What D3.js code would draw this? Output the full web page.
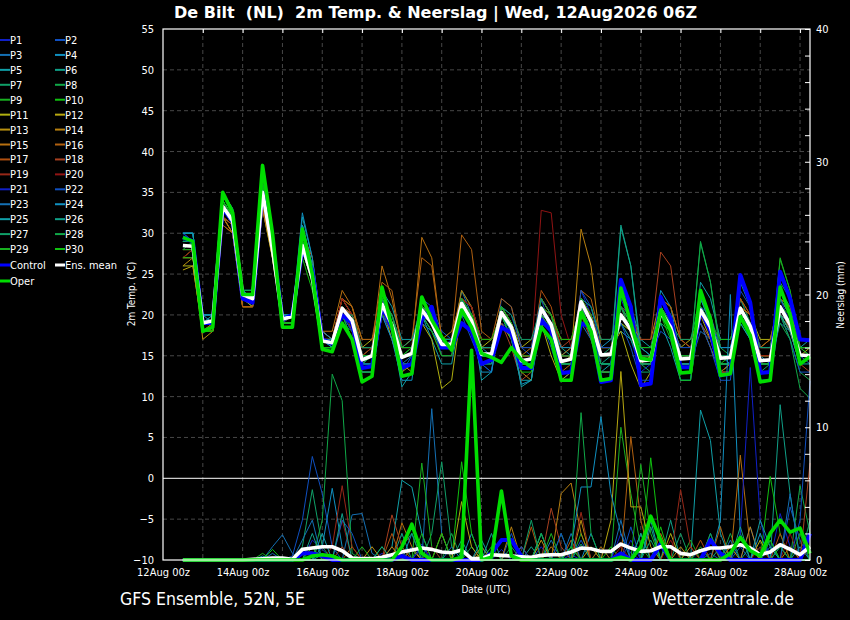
<!DOCTYPE html>
<html>
<head>
<meta charset="utf-8">
<script src="https://cdn.jsdelivr.net/npm/d3@7"></script>
<style>
    body { margin: 0; background: #000; }
    svg { display: block; }
    text { font-family: "DejaVu Sans Condensed", "DejaVu Sans", sans-serif; fill: #fff; }
</style>
</head>
<body>
<svg id="chart" width="850" height="620"></svg>
<script>

// run 12Aug2026 06Z, 6-hourly steps, first value at +6h
var runStart = Date.UTC(2026, 7, 12, 6);
var stepHours = 6;

var tempTicks = [-10, -5, 0, 5, 10, 15, 20, 25, 30, 35, 40, 45, 50, 55];
var precipTicks = [0, 10, 20, 30, 40];
var precipMinor = [0, 2, 4, 6, 8, 10, 12, 14, 16, 18, 20, 22, 24, 26, 28, 30, 32, 34, 36, 38, 40];

var memberNames = ["P1", "P2", "P3", "P4", "P5", "P6", "P7", "P8", "P9", "P10",
    "P11", "P12", "P13", "P14", "P15", "P16", "P17", "P18", "P19", "P20",
    "P21", "P22", "P23", "P24", "P25", "P26", "P27", "P28", "P29", "P30"];

var memberColors = ["#1020c8", "#1050c0", "#1470b4", "#1090c0", "#10a0a8", "#10a088", "#10a068", "#10a848", "#18b020", "#10c010",
    "#b0b010", "#b8a810", "#b89010", "#b88010", "#b87010", "#b06010", "#b05010", "#a84020", "#982818", "#901414",
    "#1020c8", "#1050c0", "#1470b4", "#1090c0", "#10a0a8", "#10a088", "#10a068", "#10a848", "#18b020", "#10c010"];

// 2m temperature, one row per member
var tempMembers = [
    [30,29,19,19, 33,31,22,22, 35,28,19,20, 28,24,17,16, 21,19,14,15, 22,19,15,15, 20,19,16,17, 22,20,15,15, 19,18,14,15, 21,19,14,14, 23,20,15,15, 19,17,13,14, 21,19,15,15, 19,17,15,15, 22,19,14,14, 23,20,16,16],
    [29,29,19,20, 34,32,23,22, 36,29,20,20, 29,25,17,17, 20,18,13,13, 20,17,13,15, 22,21,18,17, 20,17,14,13, 22,21,16,15, 19,16,12,13, 22,21,17,17, 21,20,16,15, 18,17,12,12, 21,20,16,16, 20,17,13,13, 25,22,17,17],
    [30,30,20,20, 33,31,23,23, 34,29,20,20, 30,26,18,17, 22,20,15,15, 21,18,14,15, 19,18,16,16, 23,20,16,15, 20,18,14,14, 22,20,15,15, 20,19,14,14, 24,21,16,15, 20,18,14,14, 18,17,13,14, 21,19,15,15, 19,18,15,14],
    [30,30,20,19, 34,32,23,22, 34,30,20,20, 31,26,17,16, 20,19,14,14, 22,19,15,15, 21,19,17,17, 20,19,14,14, 21,19,15,15, 20,18,13,13, 22,20,16,17, 18,17,14,15, 23,21,15,15, 22,20,15,14, 24,21,15,14, 20,18,14,15],
    [29,29,20,20, 33,31,22,21, 35,29,19,19, 32,27,17,16, 21,20,16,16, 23,21,17,17, 20,17,14,14, 21,20,12,13, 20,17,12,12, 19,18,15,16, 21,17,13,14, 22,21,17,16, 19,16,12,12, 24,22,17,17, 21,18,12,12, 22,20,16,17],
    [30,29,19,19, 34,32,23,23, 36,30,20,20, 29,25,17,16, 20,18,14,15, 21,18,14,14, 21,20,17,17, 22,20,16,16, 19,17,14,14, 22,20,16,15, 20,18,14,15, 31,26,16,15, 21,19,15,15, 20,18,14,14, 19,17,14,14, 23,21,16,16],
    [28,28,18,19, 33,31,22,22, 35,28,19,20, 28,25,16,16, 21,20,15,15, 20,18,15,16, 22,20,17,17, 22,19,15,15, 21,19,15,15, 20,19,15,15, 21,19,15,16, 19,17,14,13, 20,18,15,15, 22,19,14,14, 20,18,13,14, 21,18,14,15],
    [29,29,19,19, 35,33,23,23, 37,30,20,20, 29,25,16,16, 19,18,14,14, 22,19,15,15, 20,19,16,16, 23,21,16,16, 21,19,15,15, 21,19,14,14, 21,19,15,15, 20,18,15,15, 19,18,15,15, 29,24,16,15, 22,19,14,14, 19,17,13,12],
    [28,28,18,19, 34,32,22,22, 36,29,19,19, 28,24,16,16, 20,19,14,15, 22,19,15,15, 21,19,16,16, 22,20,15,15, 20,18,14,14, 21,19,15,15, 22,20,15,15, 20,18,14,14, 20,18,14,14, 21,19,15,15, 20,18,14,14, 27,23,16,15],
    [27,28,18,18, 33,31,22,22, 36,28,19,19, 27,23,16,16, 20,19,15,15, 21,19,15,16, 20,19,17,17, 21,19,15,15, 20,19,15,15, 20,18,15,15, 20,18,15,15, 19,18,14,14, 22,20,15,15, 20,18,14,15, 21,19,15,15, 20,18,15,15],
    [26,26,18,18, 32,31,22,21, 34,27,19,19, 28,24,17,17, 21,20,16,17, 21,17,13,14, 19,17,11,12, 21,20,16,17, 20,19,16,17, 19,15,12,13, 21,20,16,16, 18,14,11,13, 20,19,16,17, 20,17,13,14, 21,20,17,17, 20,19,15,16],
    [25.5,26,18,18, 32,30,21,21, 33,27,19,19, 28,24,17,17, 21,20,15,16, 22,20,16,16, 20,19,16,16, 20,19,16,16, 21,19,15,15, 20,19,14,15, 22,20,16,16, 19,18,15,15, 21,19,15,15, 21,19,15,15, 21,19,16,16, 20,18,15,15],
    [26,27,17,18, 31,30,21,21, 33,27,19,20, 29,25,17,17, 22,21,17,17, 21,18,14,13, 21,20,17,18, 22,21,17,17, 19,17,13,12, 21,20,17,17, 21,18,13,13, 20,19,17,17, 22,21,17,16, 19,16,13,13, 21,20,16,17, 22,20,17,17],
    [27,27,18,18, 32,30,21,21, 34,28,20,20, 29,25,18,17, 22,20,16,16, 20,18,15,15, 21,20,17,17, 21,19,16,16, 20,19,15,15, 22,20,15,15, 30.5,26,16,16, 21,19,15,15, 20,18,14,14, 20,19,15,15, 22,20,15,15, 21,19,16,16],
    [28,28,18,18, 32,30,22,22, 34,28,20,20, 30,26,18,18, 23,21,16,16, 26,22,16,16, 29.5,27,17,17, 23,21,16,16, 21,19,15,16, 20,18,15,16, 22,20,15,15, 20,18,14,15, 21,19,15,15, 22,20,15,15, 20,19,15,15, 21,19,16,16],
    [27,28,18,19, 32,31,22,22, 34,28,19,20, 30,27,18,17, 22,21,17,17, 24,23,16,17, 27,26,17,17, 29.8,28,18,17, 22,21,16,16, 21,18,13,14, 23,22,17,17, 21,18,14,14, 22,21,17,17, 19,17,13,14, 21,20,16,17, 22,21,17,17],
    [28,28,18,19, 31,30,21,21, 33,28,20,20, 29,26,17,17, 22,20,16,16, 21,19,15,15, 21,19,16,16, 21,19,15,15, 20,18,15,15, 23,21,16,16, 22,20,16,16, 20,18,15,15, 21,19,15,15, 20,18,15,15, 22,20,16,16, 20,19,15,15],
    [27,27,19,19, 32,31,22,22, 34,29,20,20, 28,24,17,17, 21,18,13,13, 20,19,16,17, 20,18,15,15, 22,21,17,17, 19,16,12,13, 21,20,16,17, 20,17,13,13, 21,20,17,17, 27.7,26,17,16, 21,18,13,13, 20,19,16,16, 21,18,14,13],
    [28,28,19,19, 33,31,22,22, 35,29,20,20, 28,24,17,17, 21,20,15,16, 21,19,15,15, 21,19,17,17, 21,20,16,16, 20,19,15,15, 22,20,15,15, 21,19,15,15, 20,19,16,16, 22,20,15,15, 20,18,15,15, 21,19,14,14, 22,20,16,16],
    [27,28,19,19, 33,31,22,22, 35,29,20,20, 28,25,17,17, 22,20,16,16, 22,20,16,16, 21,20,17,17, 22,21,17,17, 20,18,15,15, 32.8,32.5,20,16, 22,20,15,15, 20,18,15,15, 21,19,15,15, 20,18,15,15, 21,19,15,15, 21,19,16,16],
    [30,29,19,19, 34,32,23,22, 35,28,19,20, 28,24,16,16, 20,18,14,14, 20,18,14,14, 20,18,16,16, 21,19,15,15, 20,18,14,14, 20,18,14,14, 21,19,15,15, 22,19,14,14, 20,18,14,14, 21,18,14,14, 20,18,14,14, 22,19,15,15],
    [29,29,19,20, 33,31,23,22, 34,28,20,20, 29,25,17,16, 19,17,13,13, 21,20,16,16, 22,19,15,15, 22,18,14,13, 21,20,16,16, 22,18,13,13, 23,21,16,16, 19,16,12,12, 20,19,16,16, 19,16,12,12, 23,21,16,16, 20,17,13,13],
    [30,30,20,20, 34,32,23,23, 35,30,20,20, 31,26,17,17, 21,19,15,15, 22,19,14,14, 21,19,16,16, 20,19,15,15, 20,18,14,14, 21,19,14,14, 19,17,14,14, 21,19,14,14, 22,20,15,15, 21,19,15,15, 20,18,14,14, 21,19,15,15],
    [30,30,20,20, 35,33,23,23, 36,30,20,20, 32.5,27,18,17, 20,17,13,13, 20,17,12,12, 21,20,17,17, 21,18,13,13, 20,17,11.5,12, 20,19,16,16, 21,18,13,13, 20,19,16,16, 21,18,13,13, 20,19,16,16, 21,18,12,12, 20,19,16,16],
    [30,30,20,20, 34,32,23,22, 35,29,20,20, 31,26,17,16, 21,19,14,14, 21,18,11.2,13, 20,18,16,16, 21,19,15,15, 20,18,11.2,12, 21,19,14,14, 20,18,14,14, 20,18,14,14, 21,19,14,14, 22,19,14,14, 19,17,13,13, 20,18,14,14],
    [29,29,19,20, 34,32,22,22, 36,29,20,20, 30,25,17,17, 20,19,15,15, 21,19,15,15, 20,19,17,17, 21,20,16,16, 20,18,14,14, 21,19,14,14, 20,18,14,14, 30.7,26,15,15, 21,19,14,14, 21,19,14,14, 21,19,14,14, 22,20,15,15],
    [29,29,19,19, 34,32,22,22, 36,29,19,19, 29,25,16,16, 20,20,16,16, 21,20,16,17, 21,19,16,16, 21,19,14,14, 21,20,17,17, 21,18,13,13, 22,21,17,17, 21,18,13,13, 20,19,17,17, 22,20,14,14, 20,19,16,16, 24,22,17,17],
    [28,29,19,19, 35,33,23,23, 36,29,19,19, 29,24,16,16, 20,19,15,15, 22,20,15,15, 21,19,16,16, 22,20,15,15, 21,19,14,14, 22,20,15,15, 20,18,14,14, 21,19,15,15, 21,19,15,15, 28.8,24,15,15, 21,19,14,14, 20,17,11,9.8],
    [28,28,18,18, 34,32,22,22, 37,29,19,19, 29,24,16,16, 21,19,15,15, 21,19,15,15, 21,19,16,16, 22,20,15,15, 21,19,15,15, 20,18,14,14, 22,20,15,15, 20,18,14,14, 21,19,15,15, 21,19,14,14, 20,18,14,14, 26.8,23,16,15],
    [27,27,18,18, 34,32,22,22, 36,29,19,19, 28,24,16,16, 20,17,13,13, 20,19,16,16, 20,18,15,15, 21,20,17,17, 20,17,13,13, 21,20,17,17, 21,18,13,13, 20,19,16,16, 20,17,12,12, 20,19,17,17, 21,18,13,13, 21,20,16,16]
];

var tempControl = [29.5,29,19,19, 33,31.5,22,21.5, 35,29,19.5,20, 28,25.5,17,16.5, 20,19,13.5,13.7, 21,18.5,13.5,14,
    19.4,21,16,16, 19,18,14,14.5, 18.5,17.8,13.5,13.5, 19.4,18,12.9,13, 19,18.5,11.8,12, 24.3,21,11.4,11.6,
    22.2,19.5,13.6,13.6, 20.6,18,12.6,12.8, 24.9,21.5,12.9,13, 25.3,22,17,16.9];

var tempOper = [29.5,29,18,18.5, 35,32.5,22.5,22.5, 38.3,30,18.5,18.5, 30.5,25,15.8,15.5, 19,17,11.8,12.5, 23.4,18.5,12.5,12.8,
    22.2,19.4,17.3,15.7, 20.6,18.5,15.3,14.8, 14.2,16,14.5,13.6, 18.5,17,12,12, 20.3,18,12,12.2, 23.3,19,14.7,14.5,
    20.6,18,12.9,13, 23,19.5,12.6,12.8, 19.8,17.5,11.8,12, 23.4,20,14,14.9];

var tempMean = [28.5,28.4,19,19.3, 33.3,31.5,22.5,22, 35,28,19.5,19.8, 28.5,24.5,16.8,16.6, 20.8,19.3,14.5,15, 21.3,18.8,14.8,15.3,
    20.6,19,16.4,16.4, 21.4,19.3,15.2,15.2, 20.3,18.5,14.4,14.6, 20.8,18.8,14.3,14.6, 21.6,19.2,15.1,15.2, 20,18.2,14.4,14.5,
    20.4,18.5,14.6,14.7, 20.6,18.5,14.7,14.8, 20.8,18.6,14.4,14.5, 21,18.8,15.1,15];

// 6-hourly precipitation (mm), one row per member
var precipMembers = [
    [0,0,0,0, 0,0,0,0, 0,0,0,0, 0,1.5,0.8,0, 0,0,0,0, 0.5,0,0,0, 1.2,0,0,0, 0,0,0.3,0, 0.8,0,0,0, 1,0,0,0.4, 0,0,0,0, 2,0.5,0,0, 1.5,0,0,0, 0.8,0,0,0, 0,2.5,0,0, 3.5,1,0,0],
    [0,0,0,0, 0,0,0,0, 0,0,0,0.3, 3,7.8,5,1, 0,0,0,0, 0,0,0,1, 0,0,0,0, 0,0,0,0, 0,2,0,0, 0,0,0,0, 1.5,0,0,0, 0,2.5,0,0, 0,0,0,0, 0,0.5,0,0, 1,0,0,0, 0,4,1.5,0],
    [0,0,0,0, 0,0,0,0, 0,1,1.9,0.5, 0,0,0,0, 0,3.4,3.5,0.5, 0,0,0,0, 0,11.4,2,0, 0,0,1,0, 0,0,0,0, 0,1.5,0,0, 0,0,0,0, 3,0,0,0, 0,0,0,0, 0,2,0,0, 0,0,0,1, 0,0,0,0],
    [0,0,0,0, 0,0,0,0, 0,0,0,0, 0,0,1,5.4, 1,0,0,0, 0,0,0,0, 0,0,0,0, 0,2,0,0, 0,0,1,0, 0,0,0,0, 0,2,0,0, 0,0,0,0, 0,0,0,0, 0,0,3,20, 2,0,0,0, 1,0,0,0],
    [0,0,0,0, 0,0,0,0, 0,0,0,0, 0,0,0.4,0, 0,0,0,0, 0,1,6,5.5, 2,0,0,0, 0,0,1,0, 0,0,0,0, 0,0,0,1, 0,0,0,0, 0,0,2,0, 0,0,0,0, 11.3,9,2,0, 0,0,0,0, 0,0,1,0],
    [0,0,0,0, 0,0,0,0, 0,0,0,0, 0,2,0,0, 0,0,0,0, 0,0,2,0, 0,0,0,0, 1.5,0,0,0, 0,0,0,1, 0,0,0,0, 0,0,0,0, 0,0,0,2.5, 0,3,0,0, 0,0,0,0, 0,1,0,0, 11.7,5,0,0],
    [0,0,0,0, 0,0,0,0, 0,0,0,0, 1,5.3,1,0, 0,0,0,0, 0,0,0,0, 0,2,7.4,1, 0,0,0,0, 0,1,0,0, 0,0,2,0, 1.2,0,0,0, 0,0,0,0, 0,0,2,0, 0,0,0,0, 0,0,0,1.5, 0,0,0,0],
    [0,0,0,0, 0,0,0,0, 0,0,0,0, 0,0,3,14, 12,0.5,0,0, 0,0,0,0, 0,0,0,0, 0,1,0,0, 0,0,0,0, 2,0,0,0, 0,0,1,0, 0,0,0,0, 0,0,0,0, 0,0,0,2, 0,0,0,0, 0,0,5.6,2],
    [0,0,0,0, 0,0,0,0, 0.5,0,0,0, 0,0,0,0, 0,0,0,0, 0,0,1,0, 7.3,1,0,0, 0,0,0,0, 0,0,0,0, 0,0,0,0, 2,0,0,0, 10,5,1,0, 0,0,0,1.5, 0,0,0,0, 0,0,0,0, 0,0,0,0],
    [0,0,0,0, 0,0,0,0, 0,0,0,0, 0,0,0,0, 0,0,0,0, 1,0,0,0, 0,0,0,0, 7.4,2,0,1, 0,0,0,0, 0,0,0,0, 0,0,0,1, 0,0,0,7.7, 1,0,0,0, 0,0,0,0, 0,0,0,6.3, 2,0,0,0],
    [0,0,0,0, 0,0,0,0, 0,0,0,0, 0,0,0,0, 0,0,0,0, 0,0,0,0.8, 0,0,0,0, 4.4,1,0,0, 0,0,1,0, 0,0,0,0, 0,1,0,0, 0,0,0,0, 0,2,0,0, 0,0,0,0, 0,0,1.5,0, 0,0,0,0],
    [0,0,0,0, 0,0,0,0, 0,0,0,0, 0,0,0,0, 0,0,0,0, 0,0,0,0, 0,0,0,0, 0,0,0.5,0, 0,0,0,0, 0,0,0,0, 0,0,0,3, 14.2,4,4,1, 0,0,0,0, 0,0,0,1, 0,0,0,0, 0,0,0,0],
    [0,0,0,0, 0,0,0,0, 0,0,0,0, 0,0,0,0, 0,0,0,1, 0,0,0,0, 0,0,2,0, 0,0,0,0, 0,0,0,0, 1.5,0,0,0, 3,0,0,0, 0,0,0,0, 0,0,1,0, 0,0,0,0, 0,2.5,0,0, 0,0,0,0],
    [0,0,0,0, 0,0,0,0, 0,0,0,0, 0,0,0,0, 0,0,0,0, 0,1,0,0, 0,0,0,0, 0,0,0,0, 0,2.5,0,0, 0,0,5,5.8, 2,0,0,0, 0,0,0,0, 0,0,0,1, 0,0,0,0, 0,0,0,0, 0,1,0,0],
    [0,0,0,0, 0,0,0,0, 0,0,0,0, 0,0,0,0, 0,0,0,0, 0,0,2.8,1, 0,0,0,0, 0,0,0,0, 0,0,0,0, 0,1,0,0, 0,0,0,0, 0,0,0,0, 2,0,0,0, 0,0,0,0, 7.9,1,0,0, 0,0,0,0],
    [0,0,0,0, 0,0,0,0, 0,0,0,0, 0,0,0,0, 0,1,0,0, 0,0,0,0, 0,0,0,0, 0,0,1,0, 0,0,0,0, 0,0,0,1.5, 0,0,0,0, 0,9.3,3,0, 0,0,0,0, 0,0,2.5,0, 0,0,0,0, 0,0,0,1],
    [0,0,0,0, 0,0,0,0, 0,0,0,0, 0,0,0,0, 0,0,0,0, 0,2,0,0, 0,0,0,0, 0,0,0,0, 0,0,0,2.5, 0,0,0,0, 0,0,1,0, 0,0,0,0, 0,0,0,0, 1.5,0,0,0, 0,0,0,0, 2,0,0,0],
    [0,0,0,0, 0,0,0,0, 0,0,0,0, 0,0,0,0, 1,0,0,0, 0,3.4,1,0, 0,0,0,0, 0,0,0,0, 0,0,0,0, 0,3.9,1,0, 0,0,0,0, 0,0,0,0, 0,0,0,0, 0,1.5,0,0, 0,0,0,0, 0,0,0,7.3],
    [0,0,0,0, 0,0,0,0, 0,0,0,0, 0,0,0,1, 5.6,1,0,0, 0,0,0,0, 0,0,0,0, 0,0,0,0, 0,0,0,0, 0,0,0,0, 3.6,0,0,0, 0,0,0,0, 0,0,5.3,1, 0,0,0,0, 0,0,1,0, 0,0,0,0],
    [0,0,0,0, 0,0,0,0, 0,0,0,0, 0,0,0,0, 3,0,0,0, 0,0,0,0, 0,1,0,0, 0,0,0,0, 0,0,0,0, 0,0,0,0, 0,0,0,0, 1,0,0,0, 0,1.5,0,0, 0,0,0,0, 0,0,0,0, 0,2,0,0],
    [0,0,0,0, 0,0,0,0, 0,0,0,0, 0,0,0,0, 0,0,0,0, 0,0,0,0, 1,0,0,0, 0,0,0,0, 0,0,1,0, 0,0,0,0, 0,0,0,0, 0,1.5,0,0, 0,0,0,0, 0,0,0,0, 2,14.5,3,0, 0,0,0,0],
    [0,0,0,0, 0,0,0,0, 0,0,0,0, 0,0,0,0, 3,2,0,0, 0,0,0,0, 0,0,0,0, 0,0,0,0, 0,0,0,0, 0,0,2,0, 0,0,0,0, 0,0,0,0, 1,0,0,0, 0,0,0,0, 0,0,0,0, 0,0,3,13.5],
    [0,0,0,0, 0,0,0,0, 0,0.5,0,0, 1.5,3,0,0, 0,0,0,0, 0,0,0,0, 0,0,0,1, 0,0,0,0, 0,0,0,0, 0,0,0,2, 0,0,0,0, 0,0,0,0, 0,0,0,0, 0,0,0,1.5, 0,0,0,0, 0,5,0,0],
    [0,0,0,0, 0,0,0,0, 0,0,0,0, 0,0,0,0, 0,0,0,0, 0,0,0,2, 0,0,0,0, 0,0,0,0, 0,0,0,0, 0,0,0,1, 5.5,5.5,10.8,5, 2,0,0,0, 0,0,0,0, 0,0,0,0, 0,0,2,0, 0,0,0,0],
    [0,0,0,0, 0,0,0,0, 0.3,0,0,0, 0,0,2,0, 0,0,0,0, 0,0,0,0, 0,0,0,0, 0,0,1.5,0, 0,0,0,0, 2,0,0,0, 0,0,0,0, 0,0,0,3, 0,0,0,0, 0,0,0,0, 0,0,3,1, 0,0,0,0],
    [0,0,0,0, 0,0,0,0, 0,0,0,0, 0,0,0,0, 3.5,0,0,0, 1,0,0,0, 0,0,0,0, 0,0,0,2, 0,0,0,0, 0,0,0,0, 0,0,0,0, 0,0,2,0, 0,0,0,0, 0,0,0,0, 2.5,0,0,0, 0,0,0,0],
    [0,0,0,0, 0,0,0,0, 0,0,0,0, 0,0,0,0, 0,0,0,0, 0,0,1,2, 0,0,0,0, 0,0,0,0, 0,0,0,3, 0,0,0,0, 0,0,0,0, 0,0,0,1.5, 0,0,0,0, 0,0,1,0, 0,0,0,0, 0,0,0,3],
    [0,0,0,0, 0,0,0,0, 0,0,0,0, 0,0,0,0, 0,0,0,0, 0,0,0,0, 0,0,0,2, 0,0,0,0, 0,0,0,0, 2,0,0,0, 11.1,2,0,0, 0,0,0,0, 0,0,0,0, 0,2,0,0, 0,0,0,0, 1,0,0,0],
    [0,0,0,0, 0,0,0,0, 0,0,0,0, 0,0,0,0, 0,0,1,0, 0,0,0,0, 2,0,0,0, 0,0,0,0, 0,0,0,0, 0,2,0,0, 0,0,0,0, 0,0,7.2,2, 0,0,0,0, 1,0,0,0, 0,0,0,0, 0,0,2,0],
    [0,0,0,0, 0,0,0,0, 0,0.8,0,0, 0,1,0,0, 0,0,0,0, 0,0,0,0, 0,0,2,0, 0,0,0,0, 0,0,0,0, 0,0,0,1, 0,0,0,0, 0,0,0,0, 2.5,0,0,0, 0,0,0,0, 0,0,0,1.5, 0,0,0,0]
];

var precipControl = [0,0,0,0, 0,0,0,0, 0,0,0,0, 0.5,0.5,0.3,0, 0,0,0,0, 0,0,0.3,0, 0,0,0,0, 0,0,0,0.5,
    1.5,1.5,0.3,0, 0,0,0,0, 0,0,0,0, 0.5,0,0,0, 1.2,0,0,0, 0,1.5,0.5,0, 0,0,0,0, 0,0,0,2];

var precipOper = [0,0,0,0, 0,0,0,0, 0,0,0,0, 0,0.3,0.4,0.3, 0,0,0,0, 0,0,1,2.7, 0.5,0,0,0, 0.2,15.8,0,0.2,
    5.2,0.3,0,0, 0,0,0,0, 0,0,0,0, 0.2,0,1,3.3, 1.5,0,0,0, 0,0,0,0.5, 1.7,0.7,0.3,2, 3,2.1,2.4,0.5];

var precipMean = [0,0,0,0, 0,0,0,0.05, 0.1,0.15,0.15,0.05, 0.8,0.9,1,1, 0.7,0.15,0.1,0.1, 0.2,0.4,0.6,0.75,
    0.9,0.8,0.6,0.55, 0.75,0.1,0.1,0.4, 0.35,0.3,0.25,0.2, 0.35,0.4,0.4,0.6, 0.9,0.85,0.65,0.65, 1.2,0.9,0.65,0.7,
    1,1,0.5,0.4, 0.7,0.9,0.9,1, 1.15,0.9,0.4,0.6, 1.15,0.8,0.4,1];

var dayLabels = ["2026-08-12", "2026-08-14", "2026-08-16", "2026-08-18", "2026-08-20", "2026-08-22", "2026-08-24", "2026-08-26", "2026-08-28"];


var VIS = {
    width: 850,
    height: 620,
    left: 163,
    right: 810,
    top: 29,
    bottom: 560,
    gridColor: "#474747",
    controlColor: "#0000ff",
    operColor: "#00dd00",
    meanColor: "#ffffff"
};

var svg = d3.select("#chart");

svg.append("rect")
    .attr("width", VIS.width)
    .attr("height", VIS.height)
    .attr("fill", "#000");

var x = d3.scaleUtc()
    .domain([new Date(Date.UTC(2026, 7, 12, 0)), new Date(Date.UTC(2026, 7, 28, 6))])
    .range([VIS.left, VIS.right]);

var yT = d3.scaleLinear().domain([-10, 55]).range([VIS.bottom, VIS.top]);
var yP = d3.scaleLinear().domain([0, 40]).range([VIS.bottom, VIS.top]);

var times = tempMean.map(function(d, i) {
    return new Date(runStart + (i + 1) * stepHours * 3600 * 1000);
});

var days = d3.utcDay.range(new Date(Date.UTC(2026, 7, 13)), new Date(Date.UTC(2026, 7, 28, 1)));

// grid
var grid = svg.append("g").attr("class", "grid");

grid.selectAll("line.gx")
    .data(days)
    .enter()
    .append("line")
    .attr("x1", function(d) { return x(d); })
    .attr("x2", function(d) { return x(d); })
    .attr("y1", VIS.top)
    .attr("y2", VIS.bottom)
    .attr("stroke", VIS.gridColor)
    .attr("stroke-dasharray", "4,3");

grid.selectAll("line.gy")
    .data(tempTicks.filter(function(d) { return d != 0 && d != -10 && d != 55; }))
    .enter()
    .append("line")
    .attr("x1", VIS.left)
    .attr("x2", VIS.right)
    .attr("y1", function(d) { return yT(d); })
    .attr("y2", function(d) { return yT(d); })
    .attr("stroke", VIS.gridColor)
    .attr("stroke-dasharray", "4,3");

// 0 degree line
svg.append("line")
    .attr("x1", VIS.left)
    .attr("x2", VIS.right)
    .attr("y1", yT(0))
    .attr("y2", yT(0))
    .attr("stroke", "#fff")
    .attr("stroke-width", 1);

var tLine = d3.line()
    .x(function(d, i) { return x(times[i]); })
    .y(function(d) { return yT(d); });

var pLine = d3.line()
    .x(function(d, i) { return x(times[i]); })
    .y(function(d) { return yP(d); });

var series = svg.append("g").attr("class", "series");

// members
tempMembers.forEach(function(row, k) {
    series.append("path")
        .attr("d", tLine(row))
        .attr("fill", "none")
        .attr("stroke", memberColors[k])
        .attr("stroke-width", 1);
});

precipMembers.forEach(function(row, k) {
    series.append("path")
        .attr("d", pLine(row))
        .attr("fill", "none")
        .attr("stroke", memberColors[k])
        .attr("stroke-width", 1);
});

function thick(data, line, color, w) {
    series.append("path")
        .attr("d", line(data))
        .attr("fill", "none")
        .attr("stroke", color)
        .attr("stroke-width", w)
        .attr("stroke-linejoin", "round");
}

thick(tempControl, tLine, VIS.controlColor, 4);
thick(precipControl, pLine, VIS.controlColor, 4);
thick(tempMean, tLine, VIS.meanColor, 3.6);
thick(precipMean, pLine, VIS.meanColor, 3.6);
thick(tempOper, tLine, VIS.operColor, 3.6);
thick(precipOper, pLine, VIS.operColor, 3.6);

// frame
svg.append("rect")
    .attr("x", VIS.left)
    .attr("y", VIS.top)
    .attr("width", VIS.right - VIS.left)
    .attr("height", VIS.bottom - VIS.top)
    .attr("fill", "none")
    .attr("stroke", "#fff")
    .attr("stroke-width", 1.2);

// axes
var axisLeft = svg.append("g")
    .attr("transform", "translate(" + VIS.left + ",0)")
    .call(d3.axisLeft(yT).tickValues(tempTicks).tickSize(0).tickPadding(9));

var axisRight = svg.append("g")
    .attr("transform", "translate(" + VIS.right + ",0)")
    .call(d3.axisRight(yP).tickValues(precipTicks).tickSize(0).tickPadding(6));

var axisRightMinor = svg.append("g")
    .attr("transform", "translate(" + VIS.right + ",0)")
    .call(d3.axisLeft(yP).tickValues(precipMinor).tickSize(5).tickFormat(""));

var axisBottom = svg.append("g")
    .attr("transform", "translate(0," + VIS.bottom + ")")
    .call(d3.axisBottom(x)
        .tickValues(dayLabels.map(function(d) { return new Date(d + "T00:00:00Z"); }))
        .tickSize(0)
        .tickPadding(8)
        .tickFormat(d3.utcFormat("%d%b %Hz")));

var axisTop = svg.append("g")
    .attr("transform", "translate(0," + VIS.top + ")")
    .call(d3.axisBottom(x).tickValues(days).tickSize(4).tickFormat(""));

[axisLeft, axisRight, axisRightMinor, axisBottom, axisTop].forEach(function(g) {
    g.select(".domain").remove();
    g.selectAll("line").attr("stroke", "#fff");
    g.selectAll("text")
        .attr("fill", "#fff")
        .style("font-size", "11px")
        .style("font-family", "'DejaVu Sans Condensed', 'DejaVu Sans', sans-serif");
});

// titles
svg.append("text")
    .attr("x", 174)
    .attr("y", 18)
    .attr("xml:space", "preserve")
    .attr("textLength", 523)
    .attr("lengthAdjust", "spacingAndGlyphs")
    .style("font-size", "16px")
    .style("font-weight", "bold")
    .text("De Bilt  (NL)  2m Temp. & Neerslag | Wed, 12Aug2026 06Z");

svg.append("text")
    .attr("x", 486)
    .attr("y", 593)
    .attr("text-anchor", "middle")
    .style("font-size", "10px")
    .text("Date (UTC)");

svg.append("text")
    .attr("transform", "translate(135,294) rotate(-90)")
    .attr("text-anchor", "middle")
    .style("font-size", "10px")
    .text("2m Temp. (°C)");

svg.append("text")
    .attr("transform", "translate(844,295) rotate(-90)")
    .attr("text-anchor", "middle")
    .style("font-size", "10px")
    .text("Neerslag (mm)");

svg.append("text")
    .attr("x", 120)
    .attr("y", 605)
    .style("font-size", "17.5px")
    .text("GFS Ensemble, 52N, 5E");

svg.append("text")
    .attr("x", 794)
    .attr("y", 605)
    .attr("text-anchor", "end")
    .style("font-size", "17.5px")
    .text("Wetterzentrale.de");

// legend
var legendItems = memberNames.map(function(name, k) {
    return { name: name, color: memberColors[k], col: k % 2, row: Math.floor(k / 2), width: 2 };
});
legendItems.push({ name: "Control", color: VIS.controlColor, col: 0, row: 15, width: 3 });
legendItems.push({ name: "Ens. mean", color: VIS.meanColor, col: 1, row: 15, width: 3 });
legendItems.push({ name: "Oper", color: VIS.operColor, col: 0, row: 16, width: 3 });

var legend = svg.append("g").attr("class", "legend");

var item = legend.selectAll("g")
    .data(legendItems)
    .enter()
    .append("g")
    .attr("transform", function(d) {
        var ly = d.row < 15 ? 40 + d.row * 14.93 : 265 + (d.row - 15) * 16;
        return "translate(" + (d.col * 55) + "," + ly + ")";
    });

item.append("line")
    .attr("x1", 0)
    .attr("x2", 10)
    .attr("stroke", function(d) { return d.color; })
    .attr("stroke-width", function(d) { return d.width; });

item.append("text")
    .attr("x", 10)
    .attr("y", 4)
    .style("font-size", "11px")
    .text(function(d) { return d.name; });

</script>
</body>
</html>
